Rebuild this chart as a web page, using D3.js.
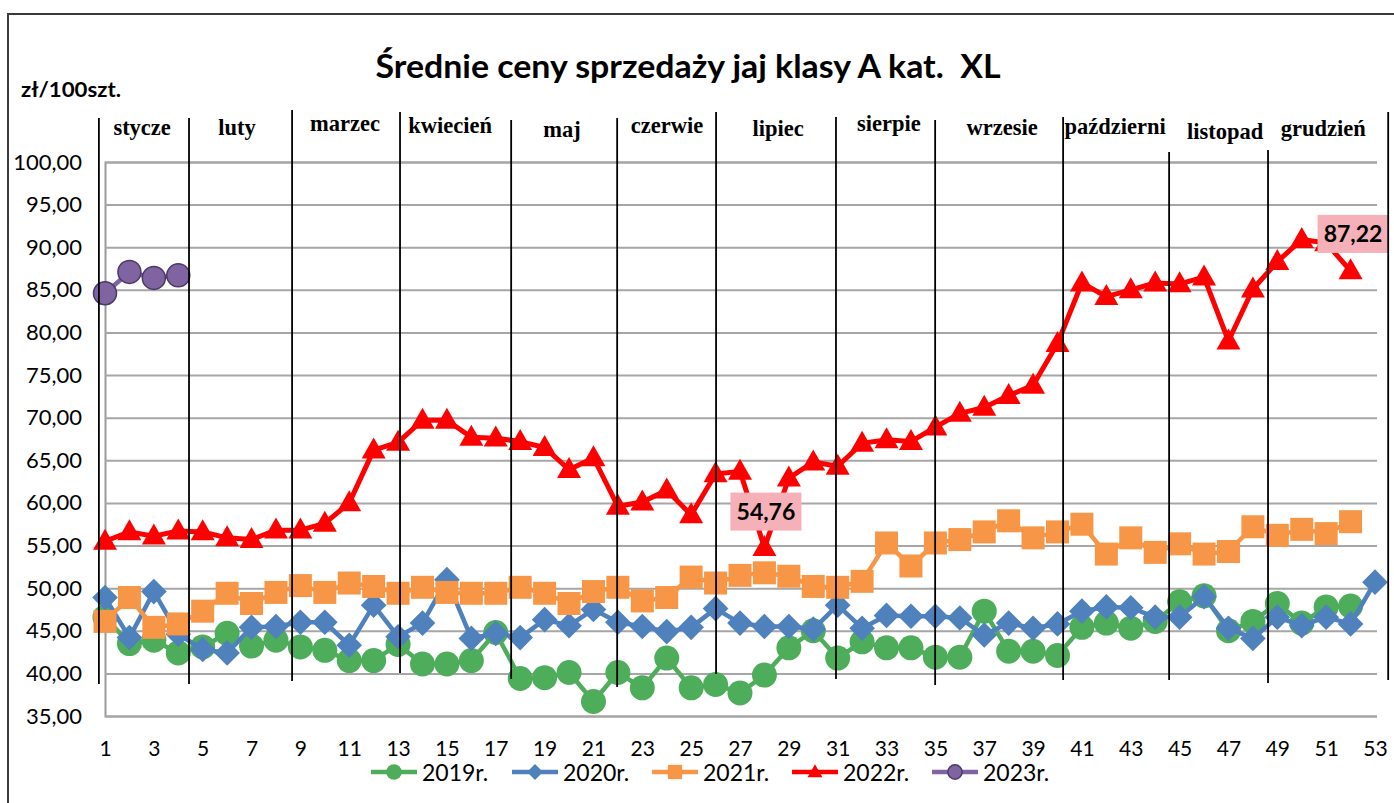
<!DOCTYPE html>
<html>
<head>
<meta charset="utf-8">
<script src="https://cdn.jsdelivr.net/npm/d3@7"></script>
<style>
  html, body { margin: 0; padding: 0; background: #fff; }
  svg { display: block; }
</style>
</head>
<body>
<svg id="chart" width="1394" height="803"></svg>
<script>
// ---------- DATA ----------
const weeks = d3.range(1, 54);
const xTickLabels = d3.range(1, 54, 2);
const yTickLabels = d3.range(35, 101, 5);

const s2019 = [46.6, 43.5, 43.9, 42.4, 43.1, 44.7, 43.2, 43.9, 43.1, 42.7,
  41.5, 41.5, 43.4, 41.1, 41.1, 41.5, 44.8, 39.4, 39.5, 40.1,
  36.7, 40.1, 38.3, 41.8, 38.3, 38.7, 37.7, 39.8, 43.0, 45.0,
  41.8, 43.7, 43.0, 43.0, 41.9, 41.9, 47.3, 42.6, 42.6, 42.1,
  45.4, 45.9, 45.3, 46.1, 48.4, 49.1, 45.0, 46.1, 48.2, 45.9,
  47.8, 47.9];
const s2020 = [48.9, 44.2, 49.6, 44.6, 42.8, 42.4, 45.4, 45.5, 46.0, 46.0,
  43.3, 48.0, 44.3, 45.9, 51.0, 44.1, 44.7, 44.2, 46.3, 45.6,
  47.5, 46.0, 45.5, 44.9, 45.4, 47.6, 45.9, 45.5, 45.5, 45.2,
  48.0, 45.3, 46.8, 46.7, 46.7, 46.5, 44.5, 45.9, 45.3, 45.8,
  47.3, 47.8, 47.7, 46.6, 46.6, 49.0, 45.3, 44.1, 46.6, 45.6,
  46.6, 45.8, 50.7];
const s2021 = [46.1, 48.9, 45.4, 45.8, 47.3, 49.4, 48.2, 49.5, 50.3, 49.5,
  50.6, 50.2, 49.4, 50.1, 49.5, 49.4, 49.4, 50.1, 49.4, 48.2,
  49.6, 50.1, 48.5, 48.9, 51.3, 50.6, 51.5, 51.8, 51.4, 50.2,
  50.1, 50.8, 55.3, 52.6, 55.3, 55.7, 56.6, 57.9, 55.9, 56.6,
  57.5, 54.0, 55.9, 54.2, 55.2, 54.0, 54.3, 57.2, 56.2, 56.9,
  56.4, 57.8];
const s2022 = [55.5, 56.6, 56.1, 56.7, 56.6, 55.9, 55.7, 56.8, 56.8, 57.6,
  60.0, 66.2, 67.1, 69.7, 69.7, 67.7, 67.6, 67.2, 66.5, 63.9,
  65.3, 59.6, 60.1, 61.5, 58.6, 63.4, 63.7, 54.76, 62.9, 64.8,
  64.3, 67.0, 67.4, 67.2, 68.9, 70.5, 71.2, 72.6, 73.8, 78.7,
  85.8, 84.2, 85.0, 85.8, 85.7, 86.5, 79.0, 85.1, 88.3, 90.9,
  90.5, 87.22];
const s2023 = [84.6, 87.1, 86.4, 86.7];

const seriesNames = ["2019r.", "2020r.", "2021r.", "2022r.", "2023r."];
const seriesValues = [s2019, s2020, s2021, s2022, s2023];
const seriesColors = ["#4EAD5B", "#4F81BD", "#F79646", "#FF0000", "#8064A2"];
const seriesMarkers = ["circle", "diamond", "square", "triangle", "circlePurple"];

const months = ["stycze", "luty", "marzec", "kwiecień", "maj", "czerwie",
  "lipiec", "sierpie", "wrzesie", "październi", "listopad", "grudzień"];
const monthLabelPos = [2.52, 6.41, 10.83, 15.13, 19.71, 24.01, 28.56, 33.1, 37.73, 42.36, 46.86, 50.88];
const monthSeparators = [0.75, 4.44, 8.66, 13.08, 17.63, 21.97, 26.02, 30.93, 34.99, 40.23, 44.57, 48.62, 53.54];

// data labels: [series index, week]
const dataLabels = [[3, 28], [3, 52]];

// ---------- LAYOUT ----------
const svg = d3.select("#chart");
const W = 1394, H = 803;
const plot = { left: 105, right: 1375, top: 162, bottom: 716 };
const sans = "Lato, 'Open Sans', sans-serif";

const x = d3.scaleLinear().domain([1, 53]).range([plot.left, plot.right]);
const y = d3.scaleLinear().domain([35, 100]).range([plot.bottom, plot.top]);

// outer frame
svg.append("rect").attr("x", 8).attr("y", 14).attr("width", W + 20).attr("height", H + 20)
  .attr("fill", "#fff").attr("stroke", "#3a3a3a").attr("stroke-width", 2);

// title
svg.append("text").attr("x", 688).attr("y", 78).attr("text-anchor", "middle")
  .attr("font-family", sans).attr("font-weight", "bold")
  .attr("font-size", 32).attr("fill", "#000")
  .attr("textLength", 625).attr("lengthAdjust", "spacingAndGlyphs")
  .style("white-space", "pre")
  .text("Średnie ceny sprzedaży jaj klasy A kat.  XL");

svg.append("text").attr("x", 21).attr("y", 97)
  .attr("font-family", sans).attr("font-weight", "bold")
  .attr("font-size", 21).attr("fill", "#000")
  .attr("textLength", 100).attr("lengthAdjust", "spacingAndGlyphs")
  .text("zł/100szt.");

// gridlines + y axis
const yAxis = d3.axisLeft(y).tickValues(yTickLabels)
  .tickSize(-(plot.right + 2 - plot.left)).tickPadding(23)
  .tickFormat(d => d.toFixed(2).replace(".", ","));
const gy = svg.append("g").attr("transform", `translate(${plot.left},0)`).call(yAxis);
gy.select(".domain").attr("stroke", "#9a9a9a").attr("stroke-width", 2);
gy.selectAll(".tick line").attr("stroke", "#a6a6a6").attr("stroke-width", 2);
gy.selectAll(".tick text").attr("font-family", sans)
  .attr("font-size", 22).attr("fill", "#000");

// x axis
const xAxis = d3.axisBottom(x).tickValues(xTickLabels).tickSize(0).tickPadding(25);
const gx = svg.append("g").attr("transform", `translate(0,${plot.bottom})`).call(xAxis);
gx.select(".domain").remove();
gx.selectAll(".tick text").attr("font-family", sans)
  .attr("font-size", 21).attr("fill", "#000");

// marker generator
function drawMarker(g, type, color, scale) {
  const s = scale || 1;
  if (type === "circle") {
    g.append("circle").attr("r", 12.5 * s).attr("fill", color);
  } else if (type === "circlePurple") {
    g.append("circle").attr("r", 11.5 * s).attr("fill", color).attr("stroke", "#4B3A66").attr("stroke-width", 1.5);
  } else if (type === "diamond") {
    g.append("path").attr("d", d3.symbol().type(d3.symbolDiamond2).size(420 * s * s)).attr("fill", color);
  } else if (type === "square") {
    const a = 23 * s;
    g.append("rect").attr("x", -a / 2).attr("y", -a / 2).attr("width", a).attr("height", a).attr("fill", color);
  } else if (type === "triangle") {
    const w = 24 * s, h = 21 * s;
    g.append("path").attr("d", `M0,${-h * 0.6}L${w / 2},${h * 0.4}L${-w / 2},${h * 0.4}Z`).attr("fill", color);
  }
}

// series
const line = d3.line().x((d, i) => x(weeks[i])).y(d => y(d));
seriesValues.forEach((vals, si) => {
  const g = svg.append("g");
  g.append("path").datum(vals).attr("d", line).attr("fill", "none")
    .attr("stroke", seriesColors[si]).attr("stroke-width", si === 3 ? 5 : 4.5)
    .attr("stroke-linejoin", "round");
  vals.forEach((v, i) => {
    const mg = g.append("g").attr("transform", `translate(${x(weeks[i])},${y(v)})`);
    drawMarker(mg, seriesMarkers[si], seriesColors[si]);
  });
});

// data labels
dataLabels.forEach(([si, wk]) => {
  const v = seriesValues[si][wk - 1];
  const cx = x(wk), cy = y(v);
  const txt = v.toFixed(2).replace(".", ",");
  const bx = wk === 52 ? cx - 33 : cx - 34;
  const by = wk === 52 ? cy - 56 : cy - 55;
  svg.append("rect").attr("x", bx).attr("y", by).attr("width", 71).attr("height", 38)
    .attr("fill", "#F6B1B8");
  svg.append("text").attr("x", bx + 35.5).attr("y", by + 27).attr("text-anchor", "middle")
    .attr("font-family", sans).attr("font-weight", "bold")
    .attr("font-size", 23).attr("fill", "#000").text(txt);
});

// month separators
const sepTops = [118, 118, 110, 112, 120, 118, 112, 117, 120, 117, 152, 150, 112];
const sepBottoms = [684, 684, 681, 673, 679, 687, 674, 679, 685, 680, 680, 683, 680];
monthSeparators.forEach((w, i) => {
  svg.append("line").attr("x1", x(w)).attr("x2", x(w))
    .attr("y1", sepTops[i]).attr("y2", sepBottoms[i])
    .attr("stroke", "#000").attr("stroke-width", 1.8);
});

// month labels
const monthBaselines = [135, 135, 131, 133, 137, 133, 136, 131, 135, 134, 139, 136];
months.forEach((m, i) => {
  svg.append("text").attr("x", x(monthLabelPos[i])).attr("y", monthBaselines[i])
    .attr("text-anchor", "middle")
    .attr("font-family", "'Liberation Serif', 'Times New Roman', serif").attr("font-weight", "bold")
    .attr("font-size", 22.5).attr("fill", "#000").text(m);
});

// legend
const legendX = [371, 512, 652, 792, 932];
seriesNames.forEach((n, i) => {
  const g = svg.append("g").attr("transform", `translate(${legendX[i]},772)`);
  g.append("line").attr("x1", 0).attr("x2", 46).attr("y1", 0).attr("y2", 0)
    .attr("stroke", seriesColors[i]).attr("stroke-width", 4.5);
  const mg = g.append("g").attr("transform", "translate(23,0)");
  drawMarker(mg, seriesMarkers[i], seriesColors[i], 0.62);
  g.append("text").attr("x", 51).attr("y", 8.5)
    .attr("font-family", sans).attr("font-size", 23)
    .attr("fill", "#000").text(n);
});
</script>
</body>
</html>
